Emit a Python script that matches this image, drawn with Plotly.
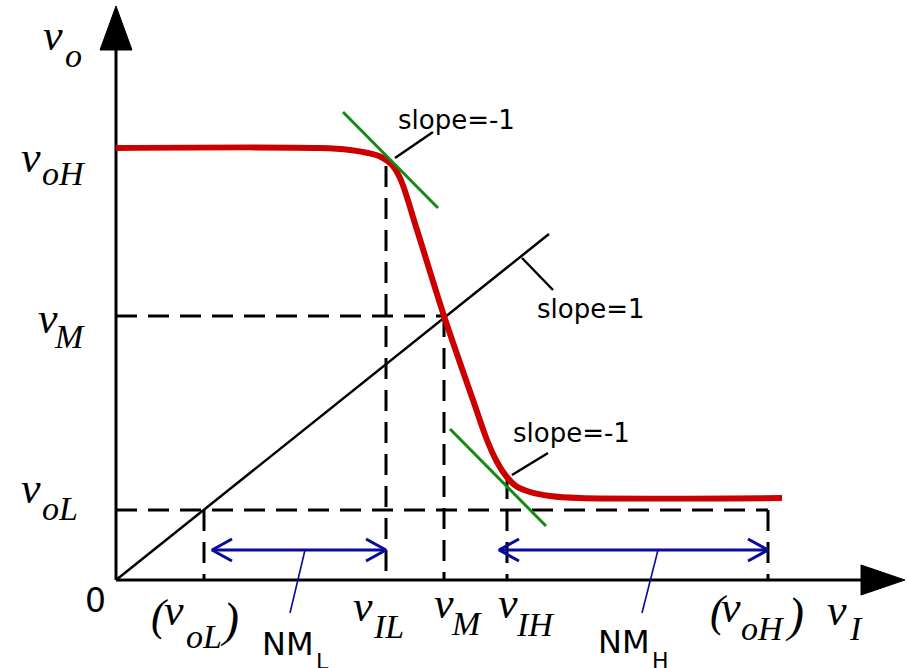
import plotly.graph_objects as go

# ---------------- data (diagram units: origin at the axes corner, y upward) ----------------
# Voltage transfer characteristic (red curve)
vtc_vi = [0, 204, 234, 252, 265, 275, 284, 301, 328, 357, 371, 381, 390, 400, 414, 434, 464, 666]
vtc_vo = [432, 432, 430, 427, 423, 416, 402, 350, 264, 180, 140, 118, 104, 94, 88, 84, 82, 82]

# unity-gain line (slope = 1)
unity_vi = [0, 433]
unity_vo = [0, 346]

# tangent lines with slope = -1 (green)
tan_hi_vi = [227, 322]
tan_hi_vo = [468, 372]
tan_lo_vi = [334, 430]
tan_lo_vo = [151, 54]

# characteristic points
v_oH = 432          # output high level
v_M = 264           # switching threshold (output)
v_oL = 70           # output low level (dashed reference)
v_IL_in = 270
v_M_in = 328
v_IH_in = 391
v_oL_in = 88
v_oH_in = 652
v_IL_top = 414
v_IH_top = 102

# noise-margin arrows
nm_level = 30
nm_L = [96, v_IL_in]
nm_H = [383, v_oH_in]

# leader lines for the labels
lead_slope_hi_x = [279, 317]
lead_slope_hi_y = [422, 448]
lead_slope_one_x = [406, 437]
lead_slope_one_y = [322, 290]
lead_slope_lo_x = [396, 432]
lead_slope_lo_y = [105, 127]
lead_nmL_x = [189, 174]
lead_nmL_y = [nm_level, -33]
lead_nmH_x = [542, 526]
lead_nmH_y = [nm_level, -33]

# axis extents
x_axis_end = 789
y_axis_end = 574

# label texts
txt_vo = ("v", "o")
txt_voH = ("v", "oH")
txt_vM = ("v", "M")
txt_voL = ("v", "oL")
txt_vIL = ("v", "IL")
txt_vIH = ("v", "IH")
txt_vI = ("v", "I")
txt_NML = ("NM", "L")
txt_NMH = ("NM", "H")
txt_slope_m1 = "slope=-1"
txt_slope_p1 = "slope=1"
txt_zero = "0"

# ---------------- styles ----------------
RED = "#CC0000"
GREEN = "#138A13"
BLUE = "#0A0A9E"
BLACK = "#000000"
SERIF = "Liberation Serif"
SANS = "DejaVu Sans"
DASH = "21px,11px"

OX, OY = 116, 580   # pixel position of the diagram origin

fig = go.Figure()


def seg(xs, ys, color=BLACK, width=3, dash=None, shape="linear"):
    fig.add_trace(go.Scatter(x=xs, y=ys, mode="lines",
                             line=dict(color=color, width=width, dash=dash, shape=shape),
                             hoverinfo="skip", showlegend=False))


def poly(xs, ys, color=BLACK):
    fig.add_trace(go.Scatter(x=xs, y=ys, mode="lines", fill="toself", fillcolor=color,
                             line=dict(color=color, width=1),
                             hoverinfo="skip", showlegend=False))


# dashed reference lines
seg([0, v_M_in], [v_M, v_M], dash=DASH)
seg([v_IL_in, v_IL_in], [v_IL_top, 0], dash=DASH)
seg([v_M_in, v_M_in], [v_M, 0], dash=DASH)
seg([0, v_oH_in], [v_oL, v_oL], dash=DASH)
seg([v_oL_in, v_oL_in], [v_oL, 0], dash=DASH)
seg([v_IH_in, v_IH_in], [v_IH_top, 0], dash=DASH)
seg([v_oH_in, v_oH_in], [v_oL, 0], dash=DASH)

# axes with filled arrow heads
HEAD_L, HEAD_W = 44, 16
seg([0, 0], [0, y_axis_end - HEAD_L + 2], width=3)
seg([0, x_axis_end - HEAD_L + 2], [0, 0], width=3)
poly([-HEAD_W, 0, HEAD_W, -HEAD_W], [y_axis_end - HEAD_L, y_axis_end, y_axis_end - HEAD_L, y_axis_end - HEAD_L])
poly([x_axis_end - HEAD_L, x_axis_end, x_axis_end - HEAD_L, x_axis_end - HEAD_L], [-15, 0, 15, -15])

# unity line and leaders
seg(unity_vi, unity_vo, width=2.5)
seg(lead_slope_hi_x, lead_slope_hi_y, width=2.5)
seg(lead_slope_one_x, lead_slope_one_y, width=2.5)
seg(lead_slope_lo_x, lead_slope_lo_y, width=2.5)

# VTC
seg(vtc_vi, vtc_vo, color=RED, width=6, shape="spline")

# tangents
seg(tan_hi_vi, tan_hi_vo, color=GREEN, width=3)
seg(tan_lo_vi, tan_lo_vo, color=GREEN, width=3)

# noise-margin double arrows
AH_L, AH_W = 20, 11
for a, b in (nm_L, nm_H):
    seg([a, b], [nm_level, nm_level], color=BLUE, width=3)
    seg([a + AH_L, a, a + AH_L], [nm_level + AH_W, nm_level, nm_level - AH_W], color=BLUE, width=3)
    seg([b - AH_L, b, b - AH_L], [nm_level + AH_W, nm_level, nm_level - AH_W], color=BLUE, width=3)
seg(lead_nmL_x, lead_nmL_y, color=BLUE, width=1.6)
seg(lead_nmH_x, lead_nmH_y, color=BLUE, width=1.6)


def text(t, left_px, base_px, size, family=SERIF, italic=True, color=BLACK):
    k = 0.3375 if family == SERIF else 0.346
    yc = base_px - k * size
    fig.add_annotation(x=left_px - OX, y=OY - yc, xref="x", yref="y",
                       xanchor="left", yanchor="middle", showarrow=False, borderpad=0,
                       text=f"<i>{t}</i>" if italic else t,
                       font=dict(family=family, size=size, color=color))


VS, SS = 44, 34   # main / subscript sizes for the italic labels


def vlabel(pair, left, base, sub_left, sub_base):
    text(pair[0], left, base, VS)
    text(pair[1], sub_left, sub_base, SS)


# y-side labels
vlabel(txt_vo, 42, 50, 64, 67)
vlabel(txt_voH, 20, 172, 41, 185)
vlabel(txt_vM, 37, 333, 53, 348)
vlabel(txt_voL, 20, 503, 41, 520)

# x-side labels
text("(", 150, 630, VS)
vlabel(txt_voL, 163, 625, 185, 648)
text(")", 219, 636, 48)
vlabel(txt_vIL, 352, 621, 372, 638)
vlabel(txt_vM, 433, 618, 450, 635)
vlabel(txt_vIH, 497, 618, 515, 636)
text("(", 709, 626, VS)
vlabel(txt_voH, 720, 622, 740, 640)
text(")", 784, 631, 48)
vlabel(txt_vI, 826, 625, 848, 640)

text(txt_zero, 84, 612, 33, family=SANS, italic=False)
text(txt_NML[0], 261, 655, 32, family=SANS, italic=False)
text(txt_NML[1], 315, 669, 22, family=SANS, italic=False)
text(txt_NMH[0], 597, 653, 32, family=SANS, italic=False)
text(txt_NMH[1], 651, 668, 22, family=SANS, italic=False)

text(txt_slope_m1, 397, 129, 26, family=SANS, italic=False)
text(txt_slope_p1, 536, 318, 26, family=SANS, italic=False)
text(txt_slope_m1, 512, 442, 26, family=SANS, italic=False)

fig.update_layout(
    width=909, height=668, autosize=False,
    margin=dict(l=0, r=0, t=0, b=0),
    paper_bgcolor="white", plot_bgcolor="white",
    xaxis=dict(range=[-OX, 909 - OX], visible=False, fixedrange=True),
    yaxis=dict(range=[OY - 668, OY], visible=False, fixedrange=True),
    showlegend=False,
)

fig.write_html("out.html", config={"displayModeBar": False},
               post_script="document.body.style.margin='0';document.body.style.overflow='hidden';")
